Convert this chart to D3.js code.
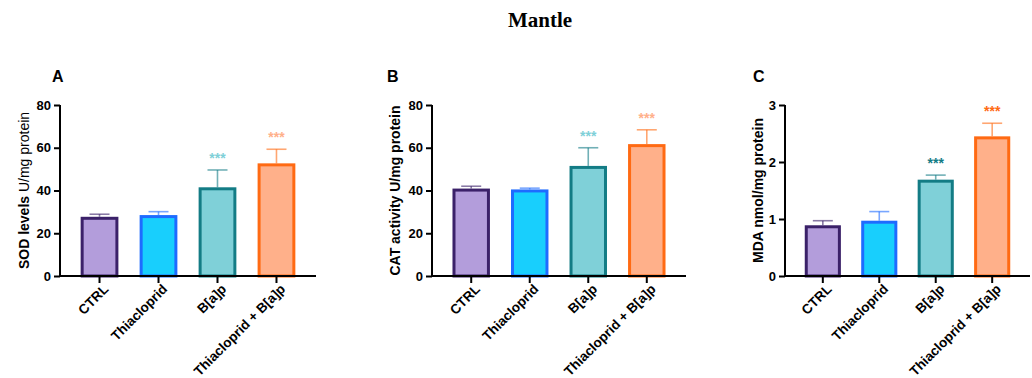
<!DOCTYPE html>
<html>
<head>
<meta charset="utf-8">
<script src="https://cdn.jsdelivr.net/npm/d3@7"></script>
<style>
    body { margin: 0; background: #fff; }
    svg { display: block; font-family: 'Liberation Sans', Arial, sans-serif; }
</style>
</head>
<body>
<div id="chart"></div>
<script>
(function () {
    const groups = ['CTRL', 'Thiacloprid', 'B[a]p', 'Thiacloprid + B[a]p'];

    const fills = ['#b39ddb', '#18cffd', '#7fd0d8', '#ffb08a'];
    const strokes = ['#3b2169', '#1e6bff', '#137c85', '#ff6a13'];

    // SOD (A)
    const sodMean = [27.7, 28.5, 41.5, 52.7];
    const sodSd = [1.2, 1.6, 8.1, 6.6];
    const sodStars = ['', '', '***', '***'];

    // CAT (B)
    const catMean = [40.9, 40.5, 51.5, 61.7];
    const catSd = [1.1, 0.6, 8.5, 6.7];
    const catStars = ['', '', '***', '***'];

    // MDA (C)
    const mdaMean = [0.89, 0.97, 1.69, 2.45];
    const mdaSd = [0.08, 0.16, 0.08, 0.23];
    const mdaStars = ['', '', '***', '***'];

    const width = 1032, height = 378;

    let svg = d3.select('#chart')
                .append('svg')
                .attr('width', width)
                .attr('height', height);

    svg.append('text')
       .attr('x', 540)
       .attr('y', 27)
       .attr('text-anchor', 'middle')
       .attr('font-family', "'Liberation Serif', 'Times New Roman', serif")
       .attr('font-weight', 'bold')
       .attr('font-size', '21px')
       .text('Mantle');

    function makePanel(opts) {
        const [top, bottom] = [105, 276];

        let g = svg.append('g');

        let x = d3.scaleBand()
                  .domain(groups)
                  .range([opts.left, opts.right])
                  .paddingInner(0.36)
                  .paddingOuter(0.35);

        let y = d3.scaleLinear()
                  .domain(opts.domain)
                  .range([bottom, top]);

        // panel letter
        g.append('text')
         .attr('x', opts.letterX)
         .attr('y', 82)
         .attr('font-weight', 'bold')
         .attr('font-size', '16px')
         .text(opts.letter);

        // y label
        let label = g.append('text')
                     .attr('transform', `translate(${opts.labelX}, ${(top + bottom) / 2}) rotate(-90)`)
                     .attr('text-anchor', 'middle')
                     .attr('dy', '0.35em')
                     .attr('font-weight', 'bold')
                     .attr('font-size', '14px');
        label.append('tspan').text(opts.labelBold);
        label.append('tspan').attr('font-weight', opts.unitWeight).text(opts.labelUnit);

        // bars
        let bars = g.selectAll('.bar')
                    .data(opts.mean)
                    .enter()
                    .append('g');

        bars.append('line')
            .attr('x1', (d, i) => x(groups[i]) + x.bandwidth() / 2)
            .attr('x2', (d, i) => x(groups[i]) + x.bandwidth() / 2)
            .attr('y1', d => y(d))
            .attr('y2', (d, i) => y(d + opts.sd[i]))
            .attr('stroke', (d, i) => strokes[i])
            .attr('stroke-opacity', 0.6)
            .attr('stroke-width', 1.6);

        bars.append('line')
            .attr('x1', (d, i) => x(groups[i]) + x.bandwidth() / 2 - 10)
            .attr('x2', (d, i) => x(groups[i]) + x.bandwidth() / 2 + 10)
            .attr('y1', (d, i) => y(d + opts.sd[i]))
            .attr('y2', (d, i) => y(d + opts.sd[i]))
            .attr('stroke', (d, i) => strokes[i])
            .attr('stroke-opacity', 0.6)
            .attr('stroke-width', 1.6);

        bars.append('rect')
            .attr('x', (d, i) => x(groups[i]) + 1.5)
            .attr('y', d => y(d) + 1.5)
            .attr('width', x.bandwidth() - 3)
            .attr('height', d => bottom - y(d) - 1.5)
            .attr('fill', (d, i) => fills[i])
            .attr('stroke', (d, i) => strokes[i])
            .attr('stroke-width', 3);

        bars.append('text')
            .attr('x', (d, i) => x(groups[i]) + x.bandwidth() / 2)
            .attr('y', (d, i) => y(d + opts.sd[i]) - 7)
            .attr('text-anchor', 'middle')
            .attr('font-weight', 'bold')
            .attr('font-size', '14px')
            .attr('fill', (d, i) => opts.darkStars ? strokes[i] : fills[i])
            .text((d, i) => opts.stars[i]);

        // axes
        let yAxis = g.append('g')
                     .attr('transform', `translate(${opts.left}, 0)`)
                     .call(d3.axisLeft(y).tickValues(opts.ticks).tickFormat(d3.format('d')).tickSize(6).tickSizeOuter(0).tickPadding(3));
        yAxis.selectAll('text')
             .attr('font-size', '13px')
             .attr('font-weight', 'bold')
             .attr('fill', '#000');

        let xAxis = g.append('g')
                     .attr('transform', `translate(0, ${bottom})`)
                     .call(d3.axisBottom(x).tickSize(7).tickSizeOuter(0));
        xAxis.selectAll('text')
             .attr('x', -3)
             .attr('y', 12)
             .attr('dy', '0.35em')
             .attr('transform', 'rotate(-45)')
             .style('text-anchor', 'end')
             .attr('font-size', '13.5px')
             .attr('font-weight', 'bold')
             .attr('fill', '#000');

        g.selectAll('.domain, .tick line')
         .attr('stroke', '#000')
         .attr('stroke-width', 2);
        xAxis.select('.domain').attr('d', `M${opts.left - 1},0H${opts.right}`);
        yAxis.select('.domain').attr('d', `M0,${bottom}V${top}`);
    }

    makePanel({
        letter: 'A', letterX: 52, labelX: 24,
        left: 60, right: 316,
        domain: [0, 80], ticks: [0, 20, 40, 60, 80],
        labelBold: 'SOD levels ', labelUnit: 'U/mg protein', unitWeight: 'normal',
        mean: sodMean, sd: sodSd, stars: sodStars, darkStars: false,
    });
    makePanel({
        letter: 'B', letterX: 387, labelX: 395,
        left: 432, right: 686,
        domain: [0, 80], ticks: [0, 20, 40, 60, 80],
        labelBold: 'CAT activity ', labelUnit: 'U/mg protein', unitWeight: 'bold',
        mean: catMean, sd: catSd, stars: catStars, darkStars: false,
    });
    makePanel({
        letter: 'C', letterX: 753, labelX: 758,
        left: 785, right: 1030,
        domain: [0, 3], ticks: [0, 1, 2, 3],
        labelBold: 'MDA ', labelUnit: 'nmol/mg protein', unitWeight: 'bold',
        mean: mdaMean, sd: mdaSd, stars: mdaStars, darkStars: true,
    });
})();
</script>
</body>
</html>
